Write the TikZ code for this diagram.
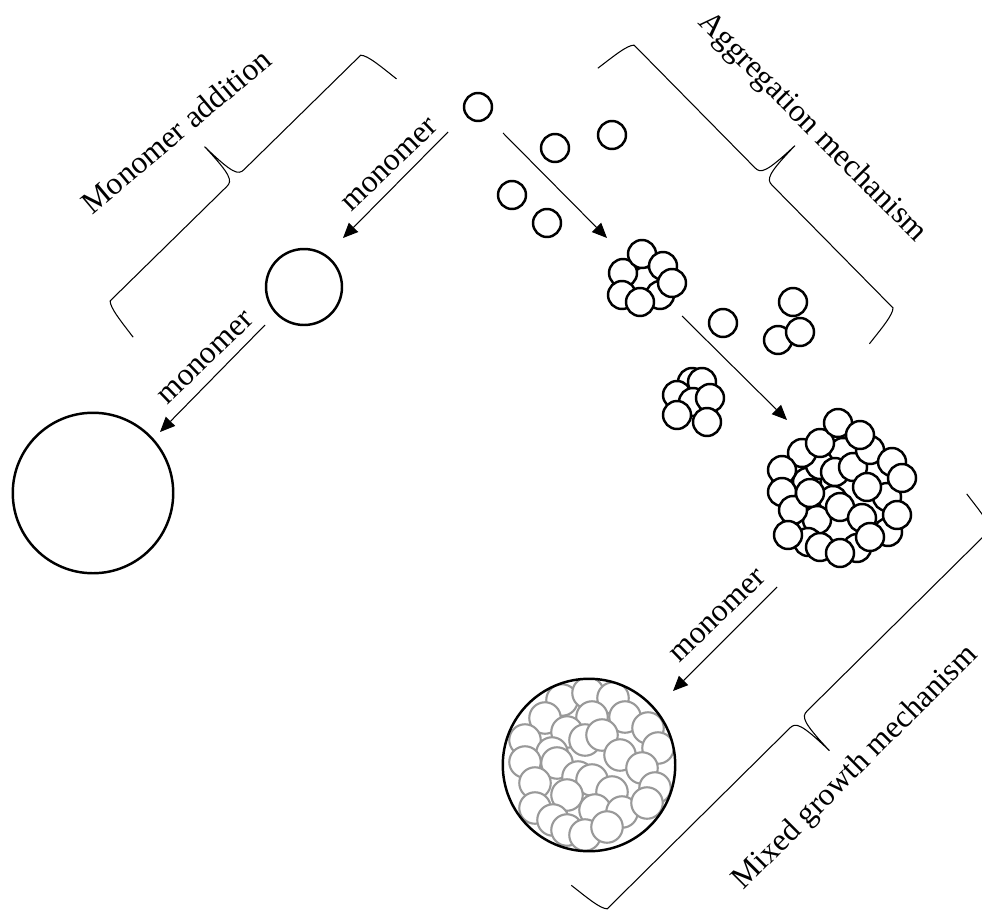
\documentclass[tikz,border=0pt]{standalone}
\usepackage{fontspec}
\setmainfont{Liberation Serif}
\usetikzlibrary{arrows.meta,calc}
\tikzset{
  ball/.style={circle, draw=black, line width=1.4pt, fill=white, minimum size=0.56cm, inner sep=0pt},
  gball/.style={circle, draw=black!40, line width=1.2pt, fill=white, minimum size=0.63cm, inner sep=0pt},
  bigball/.style={circle, draw=black, line width=1.4pt, inner sep=0pt},
  lbl/.style={font=\fontsize{18}{20}\selectfont, inner sep=0pt},
  conn/.style={line width=0.6pt, -{Triangle[length=0.3cm,width=0.26cm]}},
  bracel/.style={line width=0.6pt},
}
\newcommand\mybrace[3]{%
  \begin{scope}[shift={(#1)}, rotate=#2, x=1cm, y=1cm]
    \pgfmathsetmacro\brHalf{#3/2}
    \draw[bracel] (-0.12,-0.84) .. controls (-0.07,-0.45) and (-0.04,-0.1) .. (0.06,0)
      -- (\brHalf-0.24,0) .. controls (\brHalf-0.08,0) and (\brHalf-0.02,0.1) .. (\brHalf,0.88)
      .. controls (\brHalf+0.02,0.1) and (\brHalf+0.08,0) .. (\brHalf+0.24,0)
      -- (#3-0.06,0) .. controls (#3+0.04,-0.1) and (#3+0.07,-0.45) .. (#3+0.12,-0.84);
  \end{scope}}
\begin{document}
\begin{tikzpicture}[x=0.02cm,y=-0.02cm]
\useasboundingbox (0,0) rectangle (982,912);

% single monomers
\node[ball] (m0) at (478,107) {};
\foreach \x/\y [count=\i] in {555/148, 612/135, 512/195, 547/223, 723/323}
  \node[ball] (s\i) at (\x,\y) {};

% cluster of eight
\foreach \x/\y [count=\i] in {645/281, 623/273, 642/254, 663/266, 622/295, 660/295, 640/302, 672/283}
  \node[ball] (c\i) at (\x,\y) {};

% cluster of three
\foreach \x/\y [count=\i] in {793/302, 778/340, 800/332}
  \node[ball] (t\i) at (\x,\y) {};

% cluster of seven
\foreach \x/\y [count=\i] in {692/382, 702/382, 677/395, 693/402, 710/398, 677/415, 707/422}
  \node[ball] (k\i) at (\x,\y) {};

% big cluster
\foreach \x/\y [count=\i] in {843/452, 833/500, 807/482, 820/465, 835/472, 853/467, 888/532, 817/520, 808/542,
  802/453, 820/443, 782/470, 782/492, 793/510, 788/535, 810/493, 857/548, 820/547, 840/553, 870/450, 887/497,
  838/423, 860/435, 892/462, 902/478, 867/487, 840/507, 862/518, 897/515, 870/537}
  \node[ball] (b\i) at (\x,\y) {};

% mixed-growth particle
\begin{scope}
  \clip (589,765) circle[radius=1.725cm];
  \foreach \x/\y [count=\i] in {562/700, 588/693, 613/698, 545/718, 592/717, 625/717, 648/728, 567/732,
    585/740, 602/735, 525/740, 658/748, 552/753, 620/755, 525/762, 557/763, 642/768, 578/777, 592/780,
    535/783, 655/788, 612/792, 567/795, 535/808, 553/820, 595/810, 622/812, 647/803, 567/830, 585/835, 607/827}
    \node[gball] (g\i) at (\x,\y) {};
\end{scope}
\node[bigball, minimum size=3.45cm] (mix) at (589,765) {};

% monomer-addition particles
\node[bigball, minimum size=1.52cm] (med) at (304,287) {};
\node[bigball, minimum size=3.21cm] (big) at (93,493) {};

% arrows
\coordinate (a1s) at (448,132); \coordinate (a1e) at (343,238);
\coordinate (a2s) at (265,325); \coordinate (a2e) at (160,432);
\coordinate (a3s) at (777,587); \coordinate (a3e) at (673,691);
\coordinate (a4s) at (503,133); \coordinate (a4e) at (607,238);
\coordinate (a5s) at (682,316); \coordinate (a5e) at (787,420);
\draw[conn] (a1s) -- (a1e);
\draw[conn] (a2s) -- (a2e);
\draw[conn] (a3s) -- (a3e);
\draw[conn] (a4s) -- (a4e);
\draw[conn] (a5s) -- (a5e);

% arrow labels
\node[lbl, rotate=44] (l1) at (390,165) {monomer};
\node[lbl, rotate=44] (l2) at (206,358) {monomer};
\node[lbl, rotate=44] (l3) at (718,616) {monomer};

% braces
\coordinate (bA) at (108,303);
\coordinate (bB) at (632,43);
\coordinate (bC) at (992,528);
\mybrace{bA}{44.44}{7.14}
\mybrace{bB}{-45.43}{7.50}
\mybrace{bC}{-135.3}{10.89}

% titles
\node[lbl, rotate=40] (tMA) at (176,131) {Monomer addition};
\node[lbl, rotate=-45] (tAG) at (812,128) {Aggregation mechanism};
\node[lbl, rotate=45] (tMX) at (856,768) {Mixed growth mechanism};
\end{tikzpicture}
\end{document}
